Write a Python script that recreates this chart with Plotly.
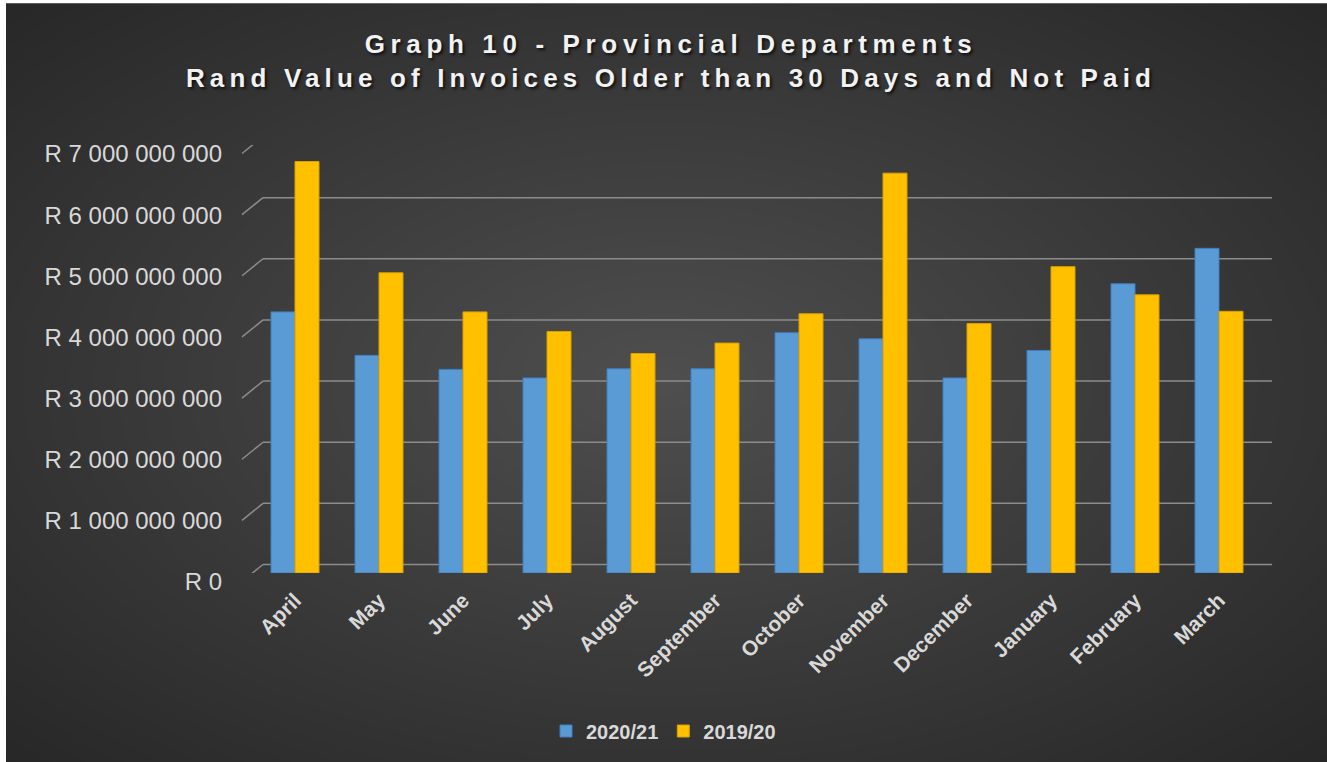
import plotly.graph_objects as go

# ---------------- data ----------------
months = ["April", "May", "June", "July", "August", "September",
          "October", "November", "December", "January", "February", "March"]
fy_2020_21 = [4.27e9, 3.56e9, 3.33e9, 3.19e9, 3.34e9, 3.34e9,
              3.93e9, 3.83e9, 3.19e9, 3.64e9, 4.73e9, 5.31e9]
fy_2019_20 = [6.73e9, 4.91e9, 4.27e9, 3.95e9, 3.59e9, 3.76e9,
              4.24e9, 6.54e9, 4.08e9, 5.01e9, 4.55e9, 4.28e9]
series_names = ["2020/21", "2019/20"]
tick_values = [0, 1e9, 2e9, 3e9, 4e9, 5e9, 6e9, 7e9]
tick_labels = ["R 0", "R 1 000 000 000", "R 2 000 000 000", "R 3 000 000 000",
               "R 4 000 000 000", "R 5 000 000 000", "R 6 000 000 000",
               "R 7 000 000 000"]
title_lines = ["Graph 10 - Provincial Departments",
               "Rand Value of Invoices Older than 30 Days and Not Paid"]
title_spacing = [5.65, 5.15]

# ---------------- layout geometry ----------------
W, H = 1327, 762
ML, MR, MT, MB = 242, 55, 145, 188.5
PW, PH = W - ML - MR, H - MT - MB
DEPTH = 8.5      # half depth of the 3D floor, px
SLANT = 21       # horizontal extent of the slanted grid stubs, px
FONT = "Liberation Sans, Arial, sans-serif"
LABEL = "#d9d9d9"


def px_x(p):
    return (p - ML) / PW


def px_y(p):
    return (H - MB - p) / PH


fig = go.Figure()
fig.add_trace(go.Bar(x=months, y=fy_2020_21, name=series_names[0],
                     marker=dict(color="#5B9BD5", line=dict(color="#3f7fbf", width=1))))
fig.add_trace(go.Bar(x=months, y=fy_2019_20, name=series_names[1],
                     marker=dict(color="#FFC000", line=dict(color="#d9a000", width=1))))

shapes = []
# white margin strip + dark background
shapes.append(dict(type="rect", xref="paper", yref="paper", layer="below",
                   x0=px_x(6), x1=px_x(W + 5), y0=px_y(H + 5), y1=px_y(3),
                   fillcolor="#262626", line=dict(width=0)))
# approximate radial gradient with stacked translucent ellipses
N = 40
cx, cy = 664, 382
for i in range(N, 0, -1):
    s = i / N
    rx = s * 0.72 * (W - 6)
    ry = s * 0.72 * (H - 3)
    shapes.append(dict(type="circle", xref="paper", yref="paper", layer="below",
                       x0=px_x(cx - rx), x1=px_x(cx + rx),
                       y0=px_y(cy + ry), y1=px_y(cy - ry),
                       fillcolor="rgba(255,255,255,0.0068)", line=dict(width=0)))
# 3D-style gridlines: slanted stub on the left + back-wall horizontal line
for v in tick_values:
    shapes.append(dict(type="line", xref="paper", yref="y", layer="below",
                       xsizemode="pixel", xanchor=0, x0=0, x1=SLANT,
                       ysizemode="pixel", yanchor=v, y0=-DEPTH, y1=DEPTH,
                       line=dict(color="#8c8c8c", width=1.5)))
    shapes.append(dict(type="line", xref="paper", yref="y", layer="below",
                       x0=SLANT / PW, x1=1,
                       ysizemode="pixel", yanchor=v, y0=DEPTH, y1=DEPTH,
                       line=dict(color="#8c8c8c", width=1.5)))

title_text = "<br>".join(
    f'<span style="letter-spacing:{sp}px">{t}</span>'
    for t, sp in zip(title_lines, title_spacing))

fig.update_layout(
    width=W, height=H,
    margin=dict(l=ML, r=MR, t=MT, b=MB, pad=0),
    paper_bgcolor="white",
    plot_bgcolor="rgba(0,0,0,0)",
    shapes=shapes,
    barmode="group", bargap=0.4286, bargroupgap=0,
    title=dict(text=title_text, x=671 / W, xref="container", xanchor="center",
               y=1 - 53 / H, yref="container", yanchor="middle",
               font=dict(family=FONT, size=26, weight="bold", color="#f2f2f2",
                         shadow="2px 2px 3px rgba(0,0,0,0.7)")),
    legend=dict(orientation="h", x=0.5, xref="container", xanchor="center",
                y=1 - 731 / H, yref="container", yanchor="middle",
                font=dict(family=FONT, size=20, weight="bold", color=LABEL),
                itemwidth=30, bgcolor="rgba(0,0,0,0)"),
    xaxis=dict(type="category", range=[-0.631, 11.631], showgrid=False,
               zeroline=False, showline=False, ticks="", tickangle=-45,
               ticklabelstandoff=10,
               tickfont=dict(family=FONT, size=21, weight="bold", color=LABEL)),
    yaxis=dict(range=[0, 7e9], tickvals=tick_values, ticktext=tick_labels,
               showgrid=False, zeroline=False, showline=False, ticks="",
               ticklabelstandoff=19, ticklabelshift=9,
               tickfont=dict(family=FONT, size=24, color=LABEL)),
    showlegend=True,
)

fig.write_html("out.html")
